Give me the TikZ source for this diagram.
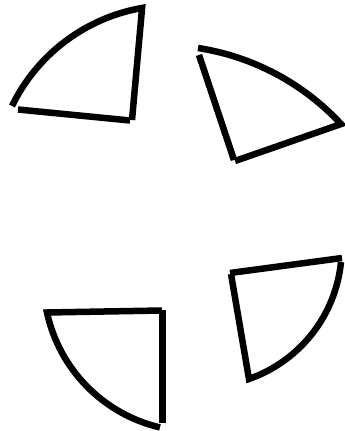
\documentclass[tikz,border=0pt]{standalone}
\begin{document}
\begin{tikzpicture}[x=1pt,y=1pt,
  edge/.style={draw=black,line width=6.5pt}]
\useasboundingbox (0,0) rectangle (345,431);
% top-left wedge
\draw[edge] (12,325) arc[start angle=154.1,end angle=99.9,radius=178.8] -- (132,311);
\draw[edge] (18,321.5) -- (130,310.5);
% top-right wedge
\draw[edge] (198,383) arc[start angle=81.2,end angle=42.8,radius=246.3] -- (235,270);
\draw[edge] (199,376) -- (234,271);
% bottom-left wedge
\draw[edge] (162,120.5) -- (47,118.5) arc[start angle=192.2,end angle=256.8,radius=150.8];
\draw[edge] (162.7,121) -- (162.7,8);
% bottom-right wedge
\draw[edge] (230,158) -- (342,173);
\draw[edge] (341,169) arc[start angle=-5.7,end angle=-70.7,radius=138.5] -- (231,157);
\end{tikzpicture}
\end{document}
